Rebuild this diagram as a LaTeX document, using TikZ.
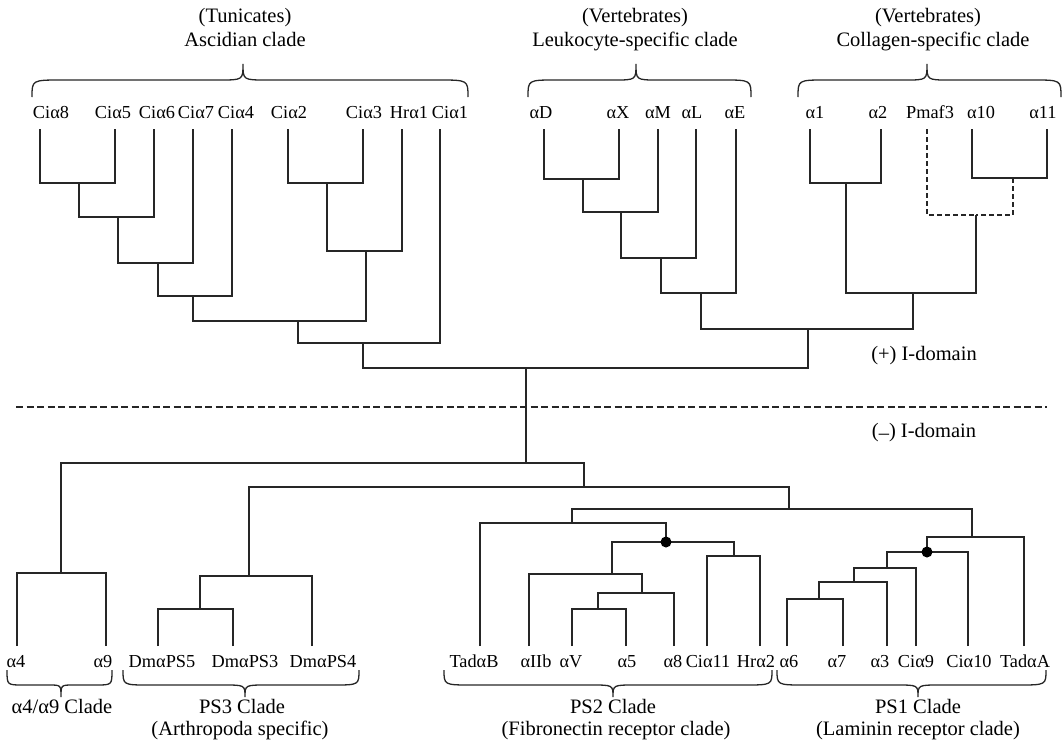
\documentclass[tikz,border=0pt]{standalone}
\usepackage{fontspec}
\setmainfont{Liberation Serif}
\newcommand{\cladebrace}[8]{%
  \draw[bracestyle] (#1,#4) .. controls (#1,#5) .. (#1+#7,#5) -- (#2-#8,#5)
    .. controls (#2,#5) .. (#2,#6) .. controls (#2,#5) .. (#2+#8,#5)
    -- (#3-#7,#5) .. controls (#3,#5) .. (#3,#4);}
\begin{document}
\begin{tikzpicture}[x=1pt,y=-1pt,
  edge/.style={draw=black!85,line width=1.5pt},
  dedge/.style={draw=black!85,line width=1.4pt,dash pattern=on 5pt off 3pt},
  sepline/.style={draw=black!85,line width=1.4pt,dash pattern=on 7pt off 3.5pt},
  bracestyle/.style={draw=black!85,line width=1.3pt},
  leaf/.style={anchor=base,inner sep=0pt,font=\fontsize{18.3}{20}\selectfont},
  title/.style={anchor=base,inner sep=0pt,font=\fontsize{20.5}{23}\selectfont},
  dot/.style={circle,fill=black,inner sep=0pt,minimum size=11pt}]
\useasboundingbox (0,0) rectangle (1063,744);

% ---------------- titles (top)
\node[title] (tA1) at (245,23) {(Tunicates)};
\node[title] (tA2) at (245,46) {Ascidian clade};
\node[title] (tL1) at (635,23) {(Vertebrates)};
\node[title] (tL2) at (635,46) {Leukocyte-specific clade};
\node[title] (tC1) at (928,23) {(Vertebrates)};
\node[title] (tC2) at (933,46) {Collagen-specific clade};

\cladebrace{32}{243}{468}{97}{80}{64}{30}{24}
\cladebrace{528}{636}{751}{97}{80}{64}{28}{22}
\cladebrace{798}{927}{1061}{97}{80}{64}{28}{22}

% ---------------- top leaf labels
\node[leaf] (lc8) at (51,118) {Ciα8};
\node[leaf] (lc5) at (113,118) {Ciα5};
\node[leaf] (lc6) at (157,118) {Ciα6};
\node[leaf] (lc7) at (196,118) {Ciα7};
\node[leaf] (lc4) at (236,118) {Ciα4};
\node[leaf] (lc2) at (289,118) {Ciα2};
\node[leaf] (lc3) at (364,118) {Ciα3};
\node[leaf] (lh1) at (409,118) {Hrα1};
\node[leaf] (lc1) at (450,118) {Ciα1};
\node[leaf] (ldD) at (541,118) {αD};
\node[leaf] (ldX) at (618,118) {αX};
\node[leaf] (ldM) at (658,118) {αM};
\node[leaf] (ldL) at (692,118) {αL};
\node[leaf] (ldE) at (735,118) {αE};
\node[leaf] (lk1) at (815,118) {α1};
\node[leaf] (lk2) at (878,118) {α2};
\node[leaf] (lpm) at (930,118) {Pmaf3};
\node[leaf] (lk10) at (981,118) {α10};
\node[leaf] (lk11) at (1043,118) {α11};

% ---------------- top leaves
\coordinate (c8) at (40,129);
\coordinate (c5) at (115,129);
\coordinate (c6) at (154,129);
\coordinate (c7) at (193,129);
\coordinate (c4) at (232,129);
\coordinate (c2) at (288,129);
\coordinate (c3) at (363,129);
\coordinate (h1) at (402,129);
\coordinate (c1) at (440,129);
\coordinate (dD) at (544,129);
\coordinate (dX) at (619,129);
\coordinate (dM) at (658,129);
\coordinate (dL) at (696,129);
\coordinate (dE) at (736,129);
\coordinate (k1) at (810,129);
\coordinate (k2) at (881,129);
\coordinate (pm) at (927,129);
\coordinate (k10) at (972,129);
\coordinate (k11) at (1047,129);

% ---------------- top joints
\coordinate (a1) at (79,183);
\coordinate (a2) at (118,217);
\coordinate (a3) at (158,263);
\coordinate (a4) at (193,296);
\coordinate (b1) at (327,183);
\coordinate (b2) at (366,251);
\coordinate (a5) at (298,321);
\coordinate (a6) at (363,343);
\coordinate (l1) at (583,179);
\coordinate (l2) at (621,212);
\coordinate (l3) at (661,258);
\coordinate (l4) at (701,293);
\coordinate (m1) at (846,183);
\coordinate (m2) at (1013,178);
\coordinate (m3) at (976,215);
\coordinate (m4) at (913,293);
\coordinate (u1) at (808,329);
\coordinate (R) at (526,368);

\foreach \c/\p in {c8/a1,c5/a1,a1/a2,c6/a2,a2/a3,c7/a3,a3/a4,c4/a4,
  c2/b1,c3/b1,b1/b2,h1/b2,a4/a5,b2/a5,a5/a6,c1/a6,a6/R,
  dD/l1,dX/l1,l1/l2,dM/l2,l2/l3,dL/l3,l3/l4,dE/l4,
  k1/m1,k2/m1,k10/m2,k11/m2,m1/m4,m3/m4,l4/u1,m4/u1,u1/R}
  \draw[edge] (\c) |- (\p);
\draw[dedge] (pm) |- (m3);
\draw[dedge] (m2) |- (m3);

% ---------------- domain separator
\coordinate (sepL) at (16,407);
\coordinate (sepR) at (1047,407);
\draw[sepline] (sepL) -- (sepR);
\node[title] (plus) at (924,360) {(+) I-domain};
\node[title] (minus) at (924,437) {(\raisebox{-0.3ex}{–}) I-domain};

% ---------------- bottom joints
\coordinate (B0) at (526,463);
\coordinate (Q1) at (61,573);
\coordinate (B1) at (584,487);
\coordinate (P1) at (249,576);
\coordinate (P2) at (200,609);
\coordinate (B2) at (789,509);
\coordinate (B3) at (572,523);
\coordinate (D1) at (666,542);
\coordinate (E2) at (734,556);
\coordinate (E1) at (612,574);
\coordinate (E3) at (642,593);
\coordinate (E4) at (598,609);
\coordinate (B4) at (972,537);
\coordinate (D2) at (927,552);
\coordinate (F1) at (887,568);
\coordinate (F2) at (854,582);
\coordinate (F3) at (819,599);

% ---------------- bottom leaves
\coordinate (x4) at (17,646);
\coordinate (x9) at (106,646);
\coordinate (ps5) at (158,646);
\coordinate (ps3) at (233,646);
\coordinate (ps4) at (312,646);
\coordinate (tB) at (480,646);
\coordinate (x2b) at (529,646);
\coordinate (xV) at (572,646);
\coordinate (x5) at (626,646);
\coordinate (x8) at (674,646);
\coordinate (c11) at (707,646);
\coordinate (h2) at (760,646);
\coordinate (x6) at (787,646);
\coordinate (x7) at (843,646);
\coordinate (x3) at (887,646);
\coordinate (c9) at (916,646);
\coordinate (c10) at (968,646);
\coordinate (tA) at (1024,646);

\foreach \c/\p in {B0/R,Q1/B0,B1/B0,x4/Q1,x9/Q1,P1/B1,B2/B1,
  P2/P1,ps4/P1,ps5/P2,ps3/P2,B3/B2,B4/B2,tB/B3,D1/B3,
  E1/D1,E2/D1,c11/E2,h2/E2,x2b/E1,E3/E1,E4/E3,x8/E3,xV/E4,x5/E4,
  D2/B4,tA/B4,F1/D2,c10/D2,F2/F1,c9/F1,F3/F2,x3/F2,x6/F3,x7/F3}
  \draw[edge] (\c) |- (\p);
\node[dot] (dot1) at (D1) {};
\node[dot] (dot2) at (D2) {};

% ---------------- bottom leaf labels
\node[leaf] (lx4) at (16,667) {α4};
\node[leaf] (lx9) at (103,667) {α9};
\node[leaf] (lps5) at (162,667) {DmαPS5};
\node[leaf] (lps3) at (245,667) {DmαPS3};
\node[leaf] (lps4) at (323,667) {DmαPS4};
\node[leaf] (ltB) at (474,667) {TadαB};
\node[leaf] (lx2b) at (536,667) {αIIb};
\node[leaf] (lxV) at (571,667) {αV};
\node[leaf] (lx5) at (627,667) {α5};
\node[leaf] (lx8) at (673,667) {α8};
\node[leaf] (lc11) at (708,667) {Ciα11};
\node[leaf] (lh2) at (756,667) {Hrα2};
\node[leaf] (lx6) at (789,667) {α6};
\node[leaf] (lx7) at (837,667) {α7};
\node[leaf] (lx3) at (880,667) {α3};
\node[leaf] (lc9) at (916,667) {Ciα9};
\node[leaf] (lc10) at (969,667) {Ciα10};
\node[leaf] (ltA) at (1025,667) {TadαA};

% ---------------- bottom braces and titles
\cladebrace{7}{61}{112}{670}{685}{697}{16}{12}
\cladebrace{123}{245}{359}{670}{685}{697}{26}{22}
\cladebrace{444}{613}{772}{670}{685}{697}{28}{22}
\cladebrace{777}{918}{1046}{670}{685}{697}{28}{22}

\node[title] (bA1) at (62,713) {α4/α9 Clade};
\node[title] (bB1) at (242,713) {PS3 Clade};
\node[title] (bB2) at (240,735) {(Arthropoda specific)};
\node[title] (bC1) at (613,713) {PS2 Clade};
\node[title] (bC2) at (616,735) {(Fibronectin receptor clade)};
\node[title] (bD1) at (918,713) {PS1 Clade};
\node[title] (bD2) at (918,735) {(Laminin receptor clade)};
\end{tikzpicture}
\end{document}
